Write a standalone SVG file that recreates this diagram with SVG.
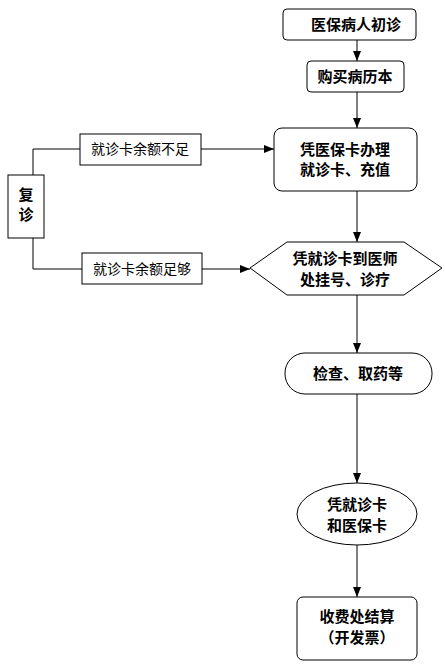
<svg xmlns="http://www.w3.org/2000/svg" width="445" height="668" viewBox="0 0 445 668">
<style>
.s{fill:#fff;stroke:#000;stroke-width:1}
.t{font-family:"Noto Sans CJK SC","Liberation Sans",sans-serif;font-size:15px;font-weight:bold;text-anchor:middle;fill:#000}
.l{font-family:"Noto Sans CJK SC","Liberation Sans",sans-serif;font-size:14px;text-anchor:middle;fill:#000}
.c{fill:none;stroke:#000;stroke-width:1}
</style>
<defs>
<marker id="a" markerWidth="10" markerHeight="8" refX="10" refY="4" orient="auto" markerUnits="userSpaceOnUse">
<path d="M0,0 L10,4 L0,8 Z" fill="#000"/>
</marker>
</defs>
<rect width="445" height="668" fill="#fff"/>
<g id="connectors">
<line class="c" x1="357" y1="40" x2="357" y2="61" marker-end="url(#a)"/>
<line class="c" x1="357" y1="92" x2="357" y2="128" marker-end="url(#a)"/>
<line class="c" x1="357" y1="191" x2="357" y2="242" marker-end="url(#a)"/>
<line class="c" x1="357" y1="295" x2="357" y2="353" marker-end="url(#a)"/>
<line class="c" x1="357" y1="394" x2="357" y2="483" marker-end="url(#a)"/>
<line class="c" x1="357" y1="545" x2="357" y2="597" marker-end="url(#a)"/>
<polyline class="c" points="33,175 33,149 80,149"/>
<line class="c" x1="201" y1="149" x2="274" y2="149" marker-end="url(#a)"/>
<polyline class="c" points="33,238 33,269 82,269"/>
<line class="c" x1="202" y1="269" x2="250" y2="269" marker-end="url(#a)"/>
</g>
<g id="n1">
<rect class="s" x="283" y="9" width="133" height="31" rx="4"/>
<text class="t" x="356" y="30">医保病人初诊</text>
</g>
<g id="n2">
<rect class="s" x="307" y="61" width="97" height="31" rx="4"/>
<text class="t" x="355" y="82">购买病历本</text>
</g>
<g id="n3">
<rect class="s" x="274" y="128" width="143" height="63" rx="8"/>
<text class="t" x="345" y="155">凭医保卡办理</text>
<text class="t" x="345" y="175">就诊卡、充值</text>
</g>
<g id="n4">
<polygon class="s" points="250,268 287,242 404,242 442,268 404,295 287,295"/>
<text class="t" x="345" y="264">凭就诊卡到医师</text>
<text class="t" x="345" y="285">处挂号、诊疗</text>
</g>
<g id="n5">
<rect class="s" x="285" y="353" width="147" height="41" rx="20"/>
<text class="t" x="358" y="379">检查、取药等</text>
</g>
<g id="n6">
<ellipse class="s" cx="357" cy="514" rx="60" ry="31"/>
<text class="t" x="357" y="510">凭就诊卡</text>
<text class="t" x="357" y="531">和医保卡</text>
</g>
<g id="n7">
<rect class="s" x="297" y="597" width="120" height="63" rx="6"/>
<text class="t" x="357" y="622">收费处结算</text>
<text class="t" x="357" y="643">（开发票）</text>
</g>
<g id="n8">
<rect class="s" x="8" y="175" width="36" height="63"/>
<text class="t" x="26" y="200">复</text>
<text class="t" x="26" y="220">诊</text>
</g>
<g id="l1">
<rect class="s" x="80" y="134" width="121" height="31"/>
<text class="l" x="140" y="154">就诊卡余额不足</text>
</g>
<g id="l2">
<rect class="s" x="82" y="253" width="120" height="31"/>
<text class="l" x="142" y="274">就诊卡余额足够</text>
</g>
</svg>
